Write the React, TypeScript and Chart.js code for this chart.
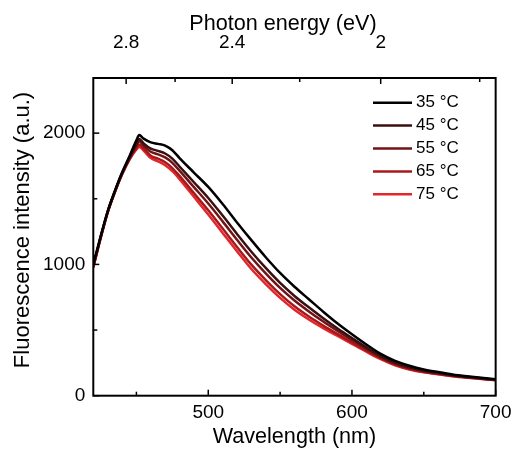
import React, { useEffect, useRef } from 'react';
import { Chart, registerables } from 'chart.js';

Chart.register(...registerables);

const FONT = '"Liberation Sans", Arial, sans-serif';

const wavelengths = [420, 425, 430, 435, 440, 445, 450, 452, 455, 460, 465, 470, 475, 480, 490, 500, 510, 520, 530, 540, 550, 560, 570, 580, 590, 600, 610, 620, 630, 640, 650, 660, 670, 680, 690, 700];

const intensity35 = [1000, 1210, 1405, 1560, 1700, 1820, 1945, 1985, 1958, 1930, 1918, 1905, 1870, 1810, 1700, 1590, 1460, 1320, 1185, 1055, 935, 830, 735, 640, 550, 468, 390, 318, 265, 228, 200, 180, 162, 148, 136, 125];
const intensity45 = [992, 1204, 1401, 1556, 1694, 1810, 1918, 1955, 1922, 1882, 1865, 1845, 1806, 1746, 1626, 1506, 1372, 1232, 1097, 973, 859, 760, 673, 590, 512, 439, 368, 302, 252, 217, 191, 173, 156, 144, 133, 122];
const intensity55 = [986, 1201, 1399, 1554, 1691, 1805, 1905, 1938, 1904, 1858, 1838, 1815, 1774, 1714, 1589, 1464, 1328, 1188, 1053, 932, 821, 725, 642, 565, 493, 424, 357, 294, 245, 211, 187, 170, 154, 141, 131, 121];
const intensity65 = [979, 1197, 1396, 1551, 1687, 1799, 1887, 1914, 1882, 1828, 1805, 1778, 1734, 1674, 1543, 1412, 1273, 1133, 998, 881, 774, 681, 603, 534, 469, 406, 343, 284, 237, 204, 181, 166, 150, 139, 129, 119];
const intensity75 = [975, 1195, 1395, 1550, 1685, 1795, 1875, 1895, 1868, 1810, 1785, 1755, 1710, 1650, 1515, 1380, 1240, 1100, 965, 850, 745, 655, 580, 515, 455, 395, 335, 278, 232, 200, 178, 163, 148, 137, 128, 118];

const seriesLabels = ['35 °C', '45 °C', '55 °C', '65 °C', '75 °C'];
const seriesColors = ['#000000', '#3c1010', '#701416', '#a8181b', '#e3262b'];
const seriesValues = [intensity35, intensity45, intensity55, intensity65, intensity75];

const wavelengthTicks = [500, 600, 700];
const wavelengthMinorTicks = [450, 550, 650];
const energyTicks = [2.8, 2.4, 2];
const energyMinorTicks = [2.6, 2.2, 1.8];
const intensityTicks = [0, 1000, 2000];
const intensityMinorTicks = [500, 1500];
const HC = 1240; // eV·nm

const framePlugin = {
  id: 'frameTicks',
  afterDatasetsDraw(chart: any) {
    const { ctx, chartArea, scales } = chart;
    const { left, right, top, bottom } = chartArea;
    ctx.save();
    ctx.strokeStyle = '#000';
    ctx.lineWidth = 1.5;
    const seg = (x1: number, y1: number, x2: number, y2: number) => {
      ctx.beginPath();
      ctx.moveTo(x1, y1);
      ctx.lineTo(x2, y2);
      ctx.stroke();
    };
    wavelengthTicks.forEach((v) => { const x = scales.x.getPixelForValue(v); seg(x, bottom, x, bottom - 6); });
    wavelengthMinorTicks.forEach((v) => { const x = scales.x.getPixelForValue(v); seg(x, bottom, x, bottom - 4); });
    energyTicks.forEach((e) => { const x = scales.x2.getPixelForValue(HC / e); seg(x, top, x, top + 6); });
    energyMinorTicks.forEach((e) => { const x = scales.x2.getPixelForValue(HC / e); seg(x, top, x, top + 4); });
    intensityTicks.forEach((v) => { const y = scales.y.getPixelForValue(v); seg(left, y, left + 6, y); });
    intensityMinorTicks.forEach((v) => { const y = scales.y.getPixelForValue(v); seg(left, y, left + 4, y); });
    ctx.lineWidth = 2;
    ctx.strokeRect(left, top, right - left, bottom - top);
    ctx.restore();
  },
  afterDraw(chart: any) {
    const { ctx } = chart;
    ctx.save();
    // legend
    const x0 = 373, x1 = 412, tx = 416, y0 = 102.7, dy = 22.9;
    chart.data.datasets.forEach((ds: any, i: number) => {
      const y = y0 + i * dy;
      ctx.strokeStyle = ds.borderColor;
      ctx.lineWidth = 2.5;
      ctx.beginPath();
      ctx.moveTo(x0, y);
      ctx.lineTo(x1, y);
      ctx.stroke();
      ctx.fillStyle = '#000';
      ctx.font = `17px ${FONT}`;
      ctx.textAlign = 'left';
      ctx.textBaseline = 'middle';
      ctx.fillText(ds.label, tx, y);
    });
    // top axis title
    ctx.fillStyle = '#000';
    ctx.font = `21.6px ${FONT}`;
    ctx.textAlign = 'center';
    ctx.textBaseline = 'middle';
    ctx.fillText('Photon energy (eV)', 283, 24.5);
    // left axis title
    ctx.save();
    ctx.translate(22.5, 230);
    ctx.rotate(-Math.PI / 2);
    ctx.font = `22px ${FONT}`;
    ctx.fillText('Fluorescence intensity (a.u.)', 0, 0);
    ctx.restore();
    ctx.restore();
  },
};

export default function App() {
  const ref = useRef<HTMLCanvasElement | null>(null);
  useEffect(() => {
    if (!ref.current) return;
    const datasets = seriesValues.map((vals, i) => ({
      label: seriesLabels[i],
      data: wavelengths.map((w, j) => ({ x: w, y: vals[j] })),
      borderColor: seriesColors[i],
      backgroundColor: seriesColors[i],
      borderWidth: 2.5,
      pointRadius: 0,
      cubicInterpolationMode: 'monotone' as const,
      fill: false,
      xAxisID: 'x',
      yAxisID: 'y',
    }));
    const tickFont = { family: FONT, size: 19, lineHeight: 1.2 };
    const chart = new Chart(ref.current, {
      type: 'line',
      data: { datasets },
      options: {
        responsive: false,
        animation: false,
        devicePixelRatio: 1,
        layout: { padding: { left: 0, right: 17, top: 0, bottom: 0 } },
        plugins: { legend: { display: false }, tooltip: { enabled: false } },
        scales: {
          x: {
            type: 'linear',
            position: 'bottom',
            min: 420,
            max: 700,
            afterBuildTicks: (s: any) => { s.ticks = wavelengthTicks.map((v) => ({ value: v })); },
            afterFit: (s: any) => { s.height = 53.3; },
            grid: { display: false, drawTicks: false },
            border: { display: false },
            ticks: { color: '#000', font: tickFont, padding: 5.5, maxRotation: 0, autoSkip: false, callback: (v: any) => String(v) },
            title: { display: true, text: 'Wavelength (nm)', color: '#000', font: { family: FONT, size: 21.6, lineHeight: 1 }, padding: { top: 0, bottom: 1 } },
          },
          x2: {
            type: 'linear',
            position: 'top',
            min: 420,
            max: 700,
            afterBuildTicks: (s: any) => { s.ticks = energyTicks.map((e) => ({ value: HC / e })); },
            afterFit: (s: any) => { s.height = 78; },
            grid: { display: false, drawTicks: false },
            border: { display: false },
            ticks: {
              color: '#000',
              font: tickFont,
              padding: 24,
              maxRotation: 0,
              autoSkip: false,
              callback: (v: any) => String(Math.round((HC / Number(v)) * 10) / 10),
            },
          },
          y: {
            type: 'linear',
            position: 'left',
            min: 0,
            max: 2420,
            afterBuildTicks: (s: any) => { s.ticks = intensityTicks.map((v) => ({ value: v })); },
            afterFit: (s: any) => { s.width = 93.3; },
            grid: { display: false, drawTicks: false },
            border: { display: false },
            ticks: { color: '#000', font: tickFont, padding: 8, callback: (v: any) => String(v) },
          },
        },
      },
      plugins: [framePlugin],
    });
    return () => chart.destroy();
  }, []);
  return (
    <div style={{ position: 'absolute', left: 0, top: 0, width: 517, height: 449, background: '#fff' }}>
      <canvas ref={ref} width={517} height={449} style={{ display: 'block' }} />
    </div>
  );
}
